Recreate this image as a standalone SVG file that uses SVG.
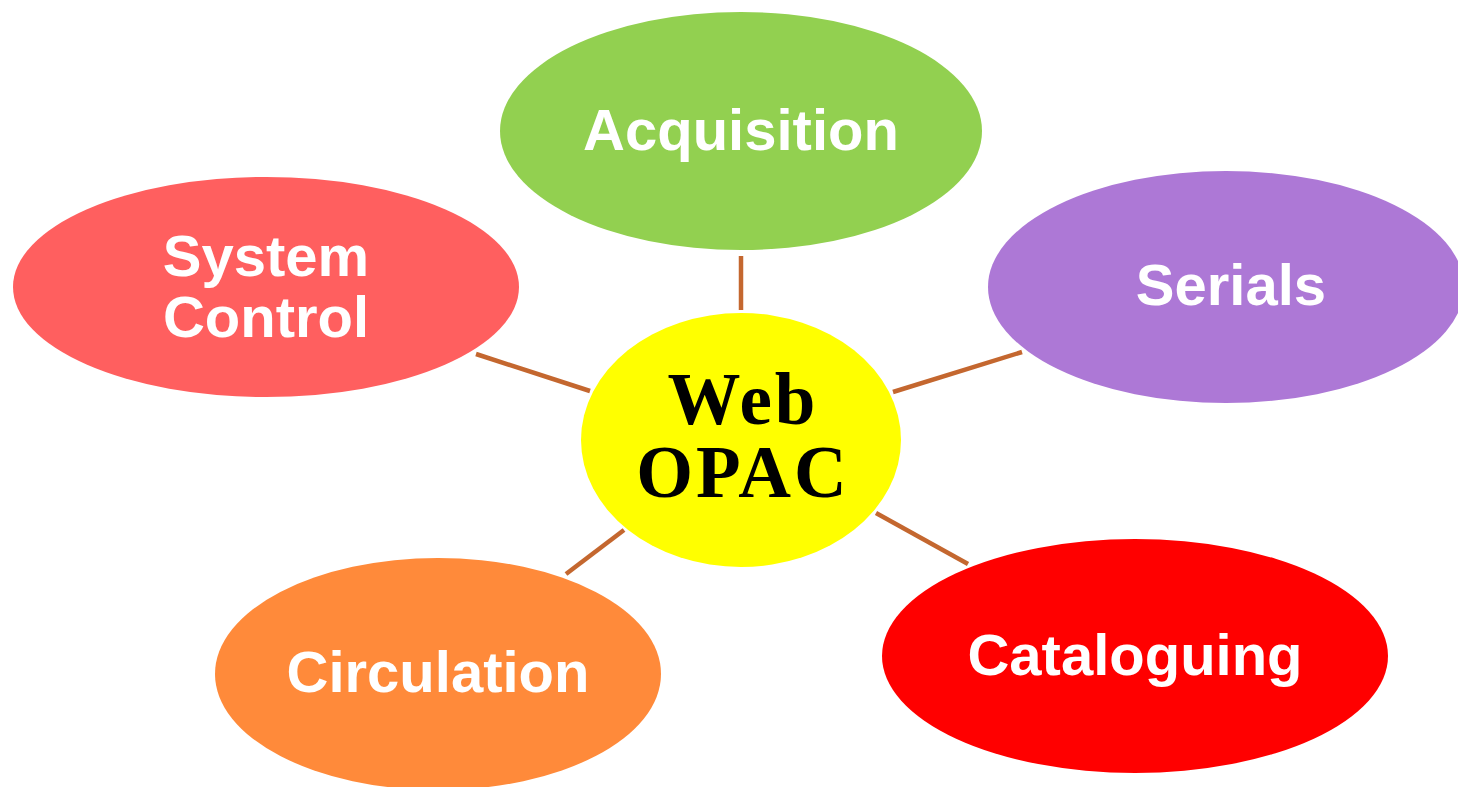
<svg xmlns="http://www.w3.org/2000/svg" width="1458" height="787" viewBox="0 0 1458 787">
<style>
.lbl{font-family:"Liberation Sans",Arial,sans-serif;font-weight:bold;font-size:58px;fill:#fff;text-anchor:middle}
.ctr{font-family:"Liberation Serif","Times New Roman",serif;font-weight:bold;font-size:73px;fill:#000;text-anchor:middle;letter-spacing:3px}
.con line{stroke:#C4672F;stroke-width:4.5}
</style>
<rect width="1458" height="787" fill="#fff"/>
<g id="connectors" class="con">
<line x1="741" y1="256" x2="741" y2="310"/>
<line x1="476" y1="354" x2="590" y2="391"/>
<line x1="893" y1="392" x2="1022" y2="352"/>
<line x1="566" y1="574" x2="624" y2="530"/>
<line x1="876" y1="513" x2="968" y2="564"/>
</g>
<g id="acquisition">
<ellipse cx="741" cy="131" rx="241" ry="119" fill="#92D050"/>
<text class="lbl" x="741" y="150">Acquisition</text>
</g>
<g id="system-control">
<ellipse cx="266" cy="287" rx="253" ry="110" fill="#FF5F5F"/>
<text class="lbl" x="266" y="276">System</text>
<text class="lbl" x="266" y="337">Control</text>
</g>
<g id="serials">
<ellipse cx="1226" cy="287" rx="238" ry="116" fill="#AD78D6"/>
<text class="lbl" x="1231" y="305">Serials</text>
</g>
<g id="web-opac">
<ellipse cx="741" cy="440" rx="160" ry="127" fill="#FFFF00"/>
<text class="ctr" x="743" y="424">Web</text>
<text class="ctr" x="743" y="497">OPAC</text>
</g>
<g id="circulation">
<ellipse cx="438" cy="674" rx="223" ry="116" fill="#FF8A3A"/>
<text class="lbl" x="438" y="692">Circulation</text>
</g>
<g id="cataloguing">
<ellipse cx="1135" cy="656" rx="253" ry="117" fill="#FF0000"/>
<text class="lbl" x="1135" y="675">Cataloguing</text>
</g>
</svg>
